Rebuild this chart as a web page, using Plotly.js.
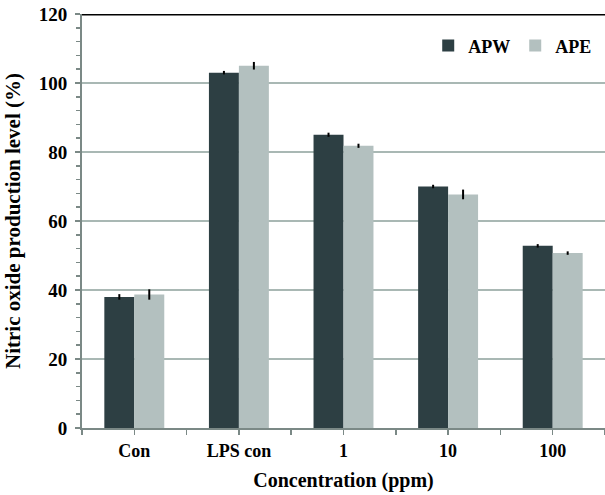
<!DOCTYPE html>
<html>
<head>
<meta charset="utf-8">
<script src="https://cdn.plot.ly/plotly-3.0.1.min.js"></script>
<style>html,body{margin:0;padding:0;background:#fff;}#chart{width:605px;height:495px;}</style>
</head>
<body>
<div id="chart"></div>
<script>
const categories = ["Con", "LPS con", "1", "10", "100"];
const apwValues = [38.0, 103.0, 85.0, 70.0, 52.8];
const apwErrors = [0.8, 0.5, 0.6, 0.5, 0.5];
const apeValues = [38.7, 105.0, 81.8, 67.7, 50.7];
const apeErrors = [1.5, 1.1, 0.6, 1.4, 0.5];
const yTicks = [0, 20, 40, 60, 80, 100, 120];

const xIdx = categories.map((c, i) => i);
const font = "Liberation Serif, Times New Roman, serif";

const traces = [
  {
    type: "bar", name: "APW", x: xIdx, y: apwValues,
    marker: {color: "#2d3f43"},
    error_y: {type: "data", array: apwErrors, visible: true, color: "#000", thickness: 2, width: 0}
  },
  {
    type: "bar", name: "APE", x: xIdx, y: apeValues,
    marker: {color: "#b3c0bf"},
    error_y: {type: "data", array: apeErrors, visible: true, color: "#000", thickness: 2, width: 0}
  }
];

const layout = {
  width: 605, height: 495,
  margin: {l: 82, r: 0, t: 14, b: 67},
  paper_bgcolor: "#fff", plot_bgcolor: "#fff",
  barmode: "group", bargap: 0.427, bargroupgap: 0,
  font: {family: font, color: "#000", size: 16},
  showlegend: true,
  legend: {
    orientation: "h", x: 0.662, y: 0.923, xanchor: "left", yanchor: "middle",
    font: {family: font, size: 18, color: "#000", weight: "bold"},
    itemwidth: 30, tracegroupgap: 0, bgcolor: "rgba(0,0,0,0)"
  },
  xaxis: {
    range: [-0.5, 4.5],
    tickmode: "array", tickvals: xIdx, ticktext: categories.map(c => "<b>" + c + "</b>"),
    ticks: "outside", ticklen: 5, tickwidth: 1.5, tickcolor: "#7b8986",
    minor: {tickmode: "linear", tick0: -0.5, dtick: 1, ticks: "outside", ticklen: 5, tickwidth: 1.5, tickcolor: "#7b8986"},
    showline: true, linecolor: "#7b8986", linewidth: 2,
    showgrid: false, zeroline: false,
    tickfont: {family: font, size: 18, color: "#000"},
    title: {text: "<b>Concentration (ppm)</b>", font: {family: font, size: 20, color: "#000"}, standoff: 13}
  },
  yaxis: {
    range: [0, 120],
    tickmode: "array", tickvals: yTicks, ticktext: yTicks.map(v => "<b>" + v + "</b>"),
    ticks: "outside", ticklen: 5, tickwidth: 1.5, tickcolor: "#7b8986",
    ticklabelstandoff: 4,
    minor: {tickmode: "linear", tick0: 0, dtick: 4, ticks: "outside", ticklen: 4, tickwidth: 1.5, tickcolor: "#7b8986"},
    showline: true, linecolor: "#7b8986", linewidth: 2,
    showgrid: true, gridcolor: "#a9b8b4", gridwidth: 2,
    zeroline: false,
    tickfont: {family: font, size: 19, color: "#000"},
    title: {text: "<b>Nitric oxide production level (%)</b>", font: {family: font, size: 21, color: "#000"}, standoff: 12}
  },
  shapes: [
    {type: "line", xref: "paper", yref: "y", x0: 0, x1: 1, y0: 120, y1: 120, line: {color: "#000", width: 3}}
  ]
};

Plotly.newPlot("chart", traces, layout, {displayModeBar: false, staticPlot: true});
</script>
</body>
</html>
